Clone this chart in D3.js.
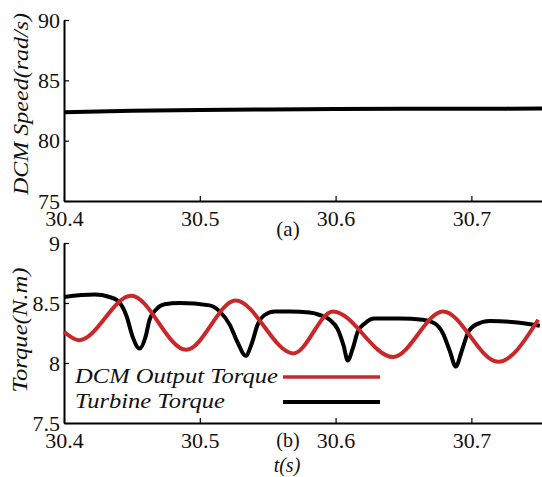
<!DOCTYPE html>
<html>
<head>
<meta charset="utf-8">
<script src="https://cdn.jsdelivr.net/npm/d3@7"></script>
<style>
  body { margin: 0; background: #fff; }
  svg text { font-family: "Liberation Serif", "Times New Roman", Times, serif; fill: #111; }
</style>
</head>
<body>
<svg id="chart" width="542" height="477"></svg>
<script>
// x ticks shared by both panels
const timeTicks = [30.4, 30.5, 30.6, 30.7];
const speedTicks = [75, 80, 85, 90];
const torqueTicks = [7.5, 8, 8.5, 9];

// (a) DCM speed
const speedT = [30.40, 30.45, 30.50, 30.55, 30.60, 30.65, 30.70, 30.752];
const speedV = [82.35, 82.48, 82.55, 82.59, 82.62, 82.64, 82.65, 82.66];

// (b) DCM output torque (red)
const dcmT = [30.400, 30.411, 30.4495, 30.490, 30.5264, 30.569, 30.5981, 30.6423, 30.6791, 30.7197, 30.7492];
const dcmV = [8.26, 8.19, 8.56, 8.11, 8.52, 8.08, 8.43, 8.05, 8.43, 8.01, 8.36];

// (b) turbine torque (black)
const turbT = [30.400, 30.4225, 30.4335, 30.4394, 30.4461, 30.4505, 30.4556, 30.4601, 30.4630, 30.4682,
  30.4741, 30.4851, 30.5072, 30.5146, 30.5220, 30.5279, 30.5338, 30.5382, 30.5426, 30.5478,
  30.5551, 30.5662, 30.5809, 30.5883, 30.5957, 30.6016, 30.6060, 30.6089, 30.6126, 30.6163,
  30.6215, 30.6288, 30.6472, 30.6642, 30.6730, 30.6789, 30.6841, 30.6885, 30.6929, 30.6974,
  30.7033, 30.7136, 30.7320, 30.7504];
const turbV = [8.55, 8.57, 8.55, 8.52, 8.39, 8.22, 8.12, 8.22, 8.36, 8.45,
  8.49, 8.50, 8.48, 8.43, 8.32, 8.17, 8.06, 8.16, 8.32, 8.40,
  8.43, 8.43, 8.42, 8.40, 8.36, 8.28, 8.14, 8.02, 8.12, 8.26,
  8.33, 8.37, 8.37, 8.36, 8.33, 8.25, 8.10, 7.97, 8.10, 8.25,
  8.32, 8.35, 8.34, 8.31];

const legendNames = ["DCM Output Torque", "Turbine Torque"];
const RED = "#c9282b";
const SERIF = "'Liberation Serif', 'Times New Roman', Times, serif";

const svg = d3.select("#chart");
const x = d3.scaleLinear().domain([30.4, 30.752]).range([64, 542]);
const ySpeed = d3.scaleLinear().domain([75, 90]).range([201, 20]);
const yTorque = d3.scaleLinear().domain([7.5, 9]).range([423, 243]);

function drawAxes(y, yTicks, yFmt, baseY) {
  const gx = svg.append("g").attr("transform", `translate(0,${baseY})`)
    .call(d3.axisBottom(x).tickValues(timeTicks).tickFormat(d3.format(".1f"))
      .tickSizeInner(-5).tickSizeOuter(0).tickPadding(9));
  const gy = svg.append("g").attr("transform", "translate(64,0)")
    .call(d3.axisLeft(y).tickValues(yTicks).tickFormat(yFmt)
      .tickSizeInner(-5).tickSizeOuter(0).tickPadding(4));
  [gx, gy].forEach(g => {
    g.attr("font-family", SERIF);
    g.select(".domain").attr("stroke", "#000").attr("stroke-width", 2);
    g.selectAll(".tick line").attr("stroke", "#000").attr("stroke-width", 1.2);
    g.selectAll(".tick text").attr("font-size", 22).attr("fill", "#111");
  });
}

drawAxes(ySpeed, speedTicks, d3.format("d"), 201);
drawAxes(yTorque, torqueTicks, d => d === 8 || d === 9 ? String(d) : d3.format(".1f")(d), 423);

const lineOf = (ts, vs, y) => d3.line().curve(d3.curveMonotoneX)
  .x(i => x(ts[i])).y(i => y(vs[i]))(d3.range(ts.length));

svg.append("path").attr("d", lineOf(speedT, speedV, ySpeed))
  .attr("fill", "none").attr("stroke", "#000").attr("stroke-width", 4);

svg.append("path").attr("d", lineOf(turbT, turbV, yTorque))
  .attr("fill", "none").attr("stroke", "#000").attr("stroke-width", 4);
svg.append("path").attr("d", lineOf(dcmT, dcmV, yTorque))
  .attr("fill", "none").attr("stroke", RED).attr("stroke-width", 4);

// y labels
svg.append("text").attr("transform", "translate(28,104) rotate(-90)")
  .attr("text-anchor", "middle").attr("font-style", "italic").attr("font-size", 22)
  .attr("textLength", 182).attr("lengthAdjust", "spacingAndGlyphs")
  .text("DCM Speed(rad/s)");
svg.append("text").attr("transform", "translate(27,330) rotate(-90)")
  .attr("text-anchor", "middle").attr("font-style", "italic").attr("font-size", 22)
  .attr("textLength", 125).attr("lengthAdjust", "spacingAndGlyphs")
  .text("Torque(N.m)");

// panel tags and x label
svg.append("text").attr("x", 288).attr("y", 236).attr("text-anchor", "middle")
  .attr("font-size", 21).text("(a)");
svg.append("text").attr("x", 288).attr("y", 447).attr("text-anchor", "middle")
  .attr("font-size", 20).text("(b)");
svg.append("text").attr("x", 287).attr("y", 472).attr("text-anchor", "middle")
  .attr("font-size", 20).attr("font-style", "italic").text("t(s)");

// legend
const legend = svg.append("g");
[{ name: legendNames[0], color: RED, y: 383, len: 203, w: 3.3 },
 { name: legendNames[1], color: "#000", y: 408, len: 150, w: 4 }].forEach(d => {
  legend.append("text").attr("x", 75).attr("y", d.y)
    .attr("font-style", "italic").attr("font-size", 22)
    .attr("textLength", d.len).attr("lengthAdjust", "spacingAndGlyphs").text(d.name);
  legend.append("line").attr("x1", 283).attr("x2", 380)
    .attr("y1", d.y - 6).attr("y2", d.y - 6)
    .attr("stroke", d.color).attr("stroke-width", d.w);
});
</script>
</body>
</html>
